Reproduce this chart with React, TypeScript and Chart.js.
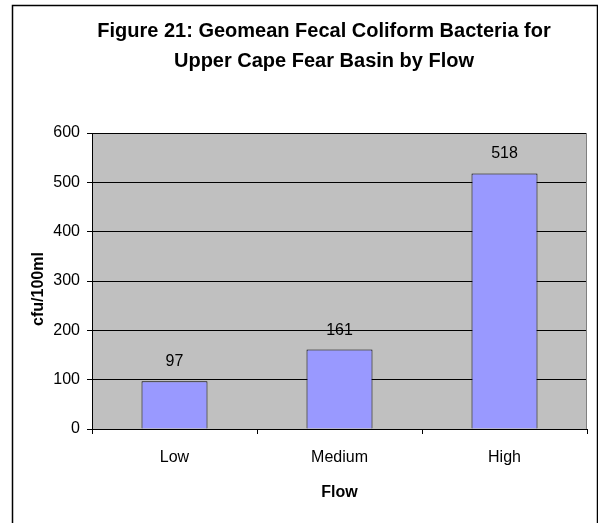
import { useEffect, useRef } from 'react';
import { Chart, registerables } from 'chart.js';

Chart.register(...registerables);

const categories = ['Low', 'Medium', 'High'];
const geomeanValues = [97, 161, 518];
const yTicks = [0, 100, 200, 300, 400, 500, 600];
const titleLines = ['Figure 21: Geomean Fecal Coliform Bacteria for', 'Upper Cape Fear Basin by Flow'];
const xTitle = 'Flow';
const yTitle = 'cfu/100ml';

const FONT = '"Liberation Sans", Arial, Helvetica, sans-serif';

const decor = {
  id: 'decor',
  beforeDraw(chart: any) {
    const { ctx, chartArea: a } = chart;
    ctx.save();
    ctx.fillStyle = '#ffffff';
    ctx.fillRect(0, 0, chart.width, chart.height);
    ctx.fillStyle = '#C0C0C0';
    ctx.fillRect(a.left, a.top, a.right - a.left, a.bottom - a.top);
    ctx.restore();
  },
  afterDatasetsDraw(chart: any) {
    const { ctx } = chart;
    const meta = chart.getDatasetMeta(0);
    const values = chart.data.datasets[0].data as number[];
    ctx.save();
    ctx.fillStyle = '#000';
    ctx.font = `16px ${FONT}`;
    ctx.textAlign = 'center';
    ctx.textBaseline = 'alphabetic';
    meta.data.forEach((bar: any, i: number) => {
      ctx.fillText(String(values[i]), bar.x, bar.y - 15);
    });
    ctx.restore();
  },
  afterDraw(chart: any) {
    const { ctx, chartArea: a } = chart;
    ctx.save();
    // plot area right edge
    ctx.strokeStyle = '#808080';
    ctx.lineWidth = 1;
    ctx.beginPath();
    ctx.moveTo(Math.round(a.right) - 0.5, a.top);
    ctx.lineTo(Math.round(a.right) - 0.5, a.bottom);
    ctx.stroke();

    // chart frame
    ctx.strokeStyle = '#000';
    ctx.lineWidth = 1.5;
    ctx.strokeRect(12.5, 5.5, 585, 600);

    // chart title
    ctx.fillStyle = '#000';
    ctx.font = `bold 20px ${FONT}`;
    ctx.textAlign = 'center';
    ctx.textBaseline = 'alphabetic';
    ctx.fillText(titleLines[0], 324, 37);
    ctx.fillText(titleLines[1], 324, 67);

    // value axis title
    ctx.font = `bold 16px ${FONT}`;
    ctx.translate(43, 289);
    ctx.rotate(-Math.PI / 2);
    ctx.fillText(yTitle, 0, 0);
    ctx.restore();
  },
};

export default function App() {
  const ref = useRef<HTMLCanvasElement | null>(null);

  useEffect(() => {
    document.body.style.margin = '0';
    const canvas = ref.current;
    if (!canvas) return;
    Chart.defaults.font.family = FONT;
    Chart.defaults.color = '#000';

    const chart = new Chart(canvas, {
      type: 'bar',
      data: {
        labels: categories,
        datasets: [
          {
            data: geomeanValues,
            backgroundColor: '#9999FF',
            borderColor: '#000000',
            borderWidth: 1,
            barPercentage: 0.4,
            categoryPercentage: 1,
          },
        ],
      },
      options: {
        responsive: false,
        animation: false,
        devicePixelRatio: 1,
        layout: { padding: { left: 12, top: 133, right: 11, bottom: 14 } },
        plugins: {
          legend: { display: false },
          title: { display: false },
          tooltip: { enabled: false },
        },
        scales: {
          x: {
            grid: {
              display: true,
              drawOnChartArea: false,
              drawTicks: true,
              tickLength: 5,
              color: '#000',
              offset: true,
            },
            border: { color: '#000', width: 1 },
            ticks: { font: { size: 16 }, padding: 14, color: '#000' },
            title: {
              display: true,
              text: xTitle,
              font: { size: 16, weight: 'bold' },
              padding: { top: 0, bottom: 7 },
              color: '#000',
            },
            afterFit(s: any) {
              s.height = 80;
            },
          },
          y: {
            min: yTicks[0],
            max: yTicks[yTicks.length - 1],
            afterBuildTicks(s: any) {
              s.ticks = yTicks.map((v) => ({ value: v }));
            },
            grid: {
              color: '#000',
              lineWidth: 1,
              drawTicks: true,
              tickLength: 5,
            },
            border: { color: '#000', width: 1 },
            ticks: { font: { size: 16 }, padding: 7, color: '#000' },
            afterFit(s: any) {
              s.width = 80;
            },
          },
        },
      },
      plugins: [decor],
    });

    return () => chart.destroy();
  }, []);

  return (
    <div style={{ position: 'fixed', left: 0, top: 0, width: 598, height: 523, background: '#fff' }}>
      <canvas ref={ref} width={598} height={523} style={{ display: 'block' }} />
    </div>
  );
}
